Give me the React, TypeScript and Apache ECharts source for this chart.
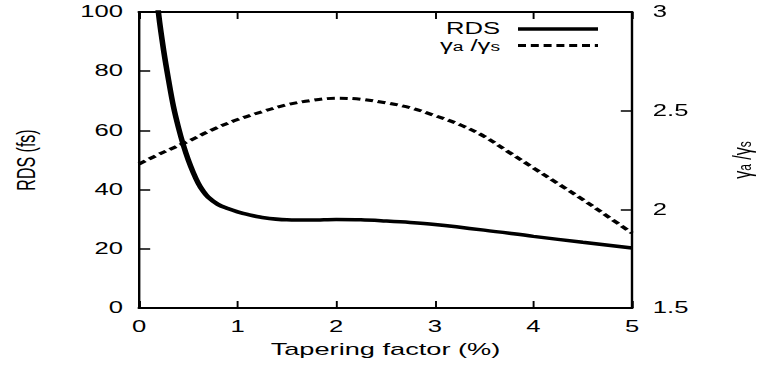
import React, { useEffect, useRef } from "react";
import * as echarts from "echarts";

// ---- data ----
const rdsX = [0.17, 0.2, 0.25, 0.3, 0.35, 0.4, 0.45, 0.5, 0.55, 0.6, 0.65, 0.7, 0.8, 0.9, 1.0, 1.1, 1.25, 1.5, 1.75, 2.0, 2.25, 2.5, 2.75, 3.0, 3.5, 4.0, 4.5, 5.0];
const rdsY = [110, 99, 87, 77, 68, 61, 55, 50, 45.8, 42.2, 39.5, 37.5, 35, 33.6, 32.5, 31.6, 30.6, 29.8, 29.7, 29.9, 29.8, 29.4, 28.9, 28.2, 26.3, 24.2, 22.2, 20.3];
const ratioX = [0, 0.25, 0.5, 0.75, 1.0, 1.25, 1.5, 1.75, 2.0, 2.25, 2.5, 2.75, 3.0, 3.25, 3.5, 3.75, 4.0, 4.25, 4.5, 4.75, 5.0];
const ratioY = [2.23, 2.29, 2.345, 2.405, 2.455, 2.495, 2.53, 2.552, 2.563, 2.558, 2.54, 2.515, 2.475, 2.43, 2.37, 2.29, 2.21, 2.13, 2.05, 1.965, 1.88];
const xTicks = { min: 0, max: 5, interval: 1 };
const leftTicks = { min: 0, max: 100, interval: 20 };
const rightTicks = { min: 1.5, max: 3, interval: 0.5 };
const seriesNames = ["RDS", "γa/γs"];
const xName = "Tapering factor (%)";
const leftName = "RDS (fs)";
const ratioLabel = "{g|γ}{s|a}{g| /γ}{s|s}";

const W = 761;
const H = 370;
const SX = 1.6;
const W0 = W / SX;
const FONT = "Liberation Sans";

export default function App() {
  const ref = useRef<HTMLDivElement>(null);
  useEffect(() => {
    if (!ref.current) return;
    const chart = echarts.init(ref.current, undefined, { renderer: "svg", width: W0, height: H });
    const rich = {
      g: { fontSize: 16, fontFamily: FONT, fill: "#000", color: "#000", lineHeight: 14 },
      s: { fontSize: 12, fontFamily: FONT, fill: "#000", color: "#000", verticalAlign: "bottom", lineHeight: 10, padding: [4, 0, 0, 0] },
    };
    const axisLineX = { onZero: false, lineStyle: { color: "#000", width: 2 } };
    const axisLineY = { onZero: false, lineStyle: { color: "#000", width: 1.5 } };
    const solidStyle = { color: "#000", width: 3.5 };
    const dashStyle = { color: "#000", width: 3, type: [5, 3] };

    // legend block (drawn as graphic, positions in unscaled px)
    const lgX1 = 518 / SX;
    const lgX2 = 598 / SX;
    const lgText = 500 / SX;
    const row1 = 29;
    const row2 = 45.5;

    chart.setOption({
      animation: false,
      backgroundColor: "#fff",
      textStyle: { fontFamily: FONT, color: "#000" },
      grid: { left: 139 / SX, right: (W - 632) / SX, top: 12, bottom: 62, outerBoundsMode: "none", containLabel: false },
      graphic: [
        {
          type: "line",
          shape: { x1: lgX1, y1: row1, x2: lgX2, y2: row1 },
          style: { stroke: "#000", lineWidth: 3.5 },
        },
        {
          type: "text",
          x: lgText,
          y: row1,
          style: { text: seriesNames[0], fontSize: 16, fontFamily: FONT, fill: "#000", align: "right", verticalAlign: "middle" },
        },
        {
          type: "line",
          shape: { x1: lgX1, y1: row2, x2: lgX2, y2: row2 },
          style: { stroke: "#000", lineWidth: 3, lineDash: [5, 3] },
        },
        {
          type: "text",
          x: lgText,
          y: row2,
          style: { text: ratioLabel, rich, fontSize: 16, fontFamily: FONT, fill: "#000", align: "right", verticalAlign: "middle" },
        },
      ],
      xAxis: [
        {
          type: "value",
          ...xTicks,
          position: "bottom",
          name: xName,
          nameLocation: "middle",
          nameGap: 33,
          nameTextStyle: { fontSize: 17, color: "#000", fontFamily: FONT },
          axisLine: axisLineX,
          axisTick: { inside: true, length: 7, lineStyle: { color: "#000", width: 1.2 } },
          axisLabel: { fontSize: 16, color: "#000", margin: 11 },
          splitLine: { show: false },
        },
        {
          type: "value",
          ...xTicks,
          position: "top",
          axisLine: axisLineX,
          axisTick: { inside: true, length: 7, lineStyle: { color: "#000", width: 1.2 } },
          axisLabel: { show: false },
          splitLine: { show: false },
        },
      ],
      yAxis: [
        {
          type: "value",
          ...leftTicks,
          position: "left",
          name: leftName,
          nameLocation: "middle",
          nameRotate: 90,
          nameGap: 62,
          nameTextStyle: { fontSize: 16, color: "#000", fontFamily: FONT },
          axisLine: axisLineY,
          axisTick: { inside: true, length: 7, lineStyle: { color: "#000", width: 1.5 } },
          axisLabel: { fontSize: 16, color: "#000", margin: 10 },
          splitLine: { show: false },
        },
        {
          type: "value",
          ...rightTicks,
          position: "right",
          name: ratioLabel,
          nameLocation: "middle",
          nameRotate: 90,
          nameGap: 62,
          nameTextStyle: { fontSize: 16, color: "#000", fontFamily: FONT, rich },
          axisLine: axisLineY,
          axisTick: { inside: true, length: 7, lineStyle: { color: "#000", width: 1.5 } },
          axisLabel: { fontSize: 16, color: "#000", margin: 13 },
          splitLine: { show: false },
        },
      ],
      series: [
        {
          name: seriesNames[0],
          type: "line",
          xAxisIndex: 0,
          yAxisIndex: 0,
          smooth: 0.35,
          symbol: "none",
          clip: true,
          lineStyle: solidStyle,
          itemStyle: { color: "#000" },
          data: rdsX.map((x, i) => [x, rdsY[i]]),
        },
        {
          name: seriesNames[1],
          type: "line",
          xAxisIndex: 0,
          yAxisIndex: 1,
          smooth: 0.35,
          symbol: "none",
          clip: true,
          lineStyle: dashStyle,
          itemStyle: { color: "#000" },
          data: ratioX.map((x, i) => [x, ratioY[i]]),
        },
      ],
    });
    return () => chart.dispose();
  }, []);
  return (
    <div style={{ position: "absolute", left: 0, top: 0, width: W, height: H, overflow: "hidden", background: "#fff" }}>
      <div
        ref={ref}
        style={{ width: W0, height: H, transform: `scaleX(${SX})`, transformOrigin: "0 0" }}
      />
    </div>
  );
}
